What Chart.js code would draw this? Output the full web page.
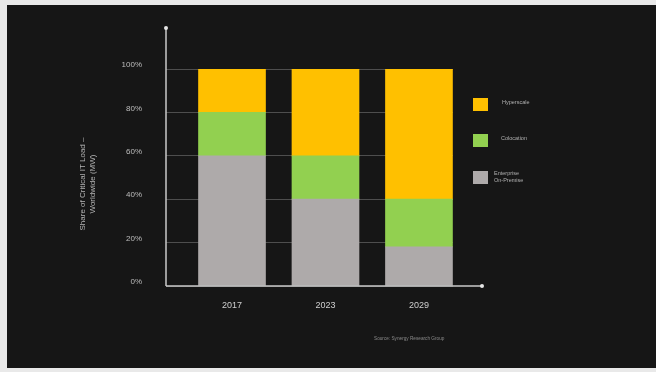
<!DOCTYPE html>
<html>
<head>
<meta charset="utf-8">
<script src="https://cdn.jsdelivr.net/npm/chart.js@4.4.1/dist/chart.umd.min.js"></script>
<style>
  html, body { margin: 0; padding: 0; background: #e9e9e9; }
  #wrap { width: 656px; height: 372px; }
</style>
</head>
<body>
<div id="wrap"><canvas id="c" width="656" height="372"></canvas></div>
<script>
const categories = ['2017', '2023', '2029'];
const enterprise = [60, 40, 18];
const colocation = [20, 20, 22];
const hyperscale = [20, 40, 60];
const yTickValues = [0, 20, 40, 60, 80, 100];
const seriesLabels = [['Enterprise', 'On-Premise'], ['Colocation'], ['Hyperscale']];
const yTitle = ['Share of Critical IT Load \u2013', 'Worldwide (MW)'];
const sourceText = 'Source: Synergy Research Group';

const colors = ['#AEAAAA', '#92D050', '#FFC000'];
const FONT = '"Liberation Sans", Arial, sans-serif';

function pts(arr) { return arr.map((v, i) => ({ x: i, y: v })); }

const bgPlugin = {
  id: 'bg',
  beforeDraw(chart) {
    const ctx = chart.ctx;
    ctx.save();
    ctx.fillStyle = '#e9e9e9';
    ctx.fillRect(0, 0, chart.width, chart.height);
    ctx.fillStyle = '#161616';
    ctx.fillRect(7, 5, chart.width - 7, 363);
    ctx.restore();
  }
};

const decoPlugin = {
  id: 'deco',
  afterDatasetsDraw(chart) {
    const ctx = chart.ctx;
    const xs = chart.scales.x, ys = chart.scales.y;
    const x0 = xs.left, y0 = ys.getPixelForValue(0);
    const yTop = ys.top - 42, xEnd = xs.right + 29;
    ctx.save();
    ctx.strokeStyle = '#c9c9c9';
    ctx.lineWidth = 1.5;
    ctx.beginPath();
    ctx.moveTo(x0, y0); ctx.lineTo(x0, yTop);
    ctx.moveTo(x0, y0); ctx.lineTo(xEnd, y0);
    ctx.stroke();
    ctx.fillStyle = '#e6e6e6';
    ctx.beginPath(); ctx.arc(x0, yTop + 1, 2, 0, Math.PI * 2); ctx.fill();
    ctx.beginPath(); ctx.arc(xEnd, y0, 2, 0, Math.PI * 2); ctx.fill();

    // y-axis title
    ctx.fillStyle = '#b5b5b5';
    ctx.font = '8px ' + FONT;
    ctx.textAlign = 'center';
    ctx.textBaseline = 'middle';
    ctx.translate(88, 184);
    ctx.rotate(-Math.PI / 2);
    ctx.fillText(yTitle[0], 0, -5);
    ctx.fillText(yTitle[1], 0, 5);
    ctx.restore();

    // legend
    ctx.save();
    const items = [
      { ds: 2, sy: 98, tx: 502 },
      { ds: 1, sy: 134, tx: 501 },
      { ds: 0, sy: 171, tx: 494 }
    ];
    ctx.font = '5.5px ' + FONT;
    ctx.textAlign = 'left';
    ctx.textBaseline = 'middle';
    items.forEach(it => {
      ctx.fillStyle = colors[it.ds];
      ctx.fillRect(473, it.sy, 15, 13);
      ctx.fillStyle = '#b0b0b0';
      const lines = seriesLabels[it.ds];
      if (lines.length === 1) {
        ctx.fillText(lines[0], it.tx, it.sy + 4);
      } else {
        ctx.fillText(lines[0], it.tx, it.sy + 2);
        ctx.fillText(lines[1], it.tx, it.sy + 9);
      }
    });

    // source
    ctx.fillStyle = '#8a8a8a';
    ctx.font = '4.7px ' + FONT;
    ctx.fillText(sourceText, 374, 339);
    ctx.restore();
  }
};

new Chart(document.getElementById('c'), {
  type: 'bar',
  data: {
    datasets: [
      { label: seriesLabels[0].join(' '), data: pts(enterprise), backgroundColor: colors[0] },
      { label: seriesLabels[1].join(' '), data: pts(colocation), backgroundColor: colors[1] },
      { label: seriesLabels[2].join(' '), data: pts(hyperscale), backgroundColor: colors[2] }
    ]
  },
  options: {
    responsive: false,
    devicePixelRatio: 1,
    animation: false,
    layout: { padding: { top: 69, right: 203, left: 0, bottom: 0 } },
    datasets: { bar: { barThickness: 67, borderWidth: 0 } },
    plugins: { legend: { display: false }, tooltip: { enabled: false } },
    scales: {
      x: {
        type: 'linear',
        stacked: true,
        min: -0.706,
        max: 2.364,
        offset: false,
        grid: { display: false },
        border: { display: false },
        afterBuildTicks(scale) {
          scale.ticks = categories.map((c, i) => ({ value: i }));
        },
        afterFit(scale) { scale.height = 86; },
        ticks: {
          color: '#cfcfcf',
          font: { family: FONT, size: 9 },
          padding: 6,
          maxRotation: 0,
          autoSkip: false,
          callback: (v) => categories[v] ?? ''
        }
      },
      y: {
        stacked: true,
        min: 0,
        max: 100,
        grid: { color: '#4e4e4e', lineWidth: 1, drawTicks: false },
        border: { display: false },
        afterBuildTicks(scale) {
          scale.ticks = yTickValues.map(v => ({ value: v }));
        },
        afterFit(scale) { scale.width = 166; },
        ticks: {
          color: '#bdbdbd',
          font: { family: FONT, size: 8 },
          padding: 24,
          labelOffset: -4,
          callback: (v) => v + '%'
        }
      }
    }
  },
  plugins: [bgPlugin, decoPlugin]
});
</script>
</body>
</html>
